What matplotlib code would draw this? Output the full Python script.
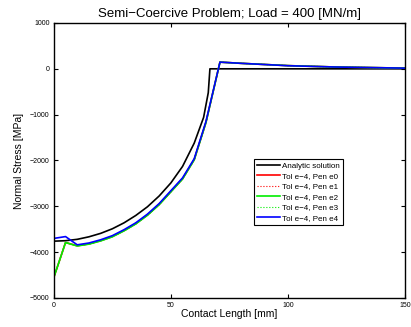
import numpy as np
import matplotlib.pyplot as plt

plt.rcParams['font.family'] = ['Liberation Sans', 'DejaVu Sans']

# analytic solution
x_ana = [0, 5, 10, 15, 20, 25, 30, 35, 40, 45, 50, 55, 60, 64, 65, 66, 66.7, 100, 150]
p_ana = [-3760, -3750, -3720, -3665, -3590, -3490, -3360, -3200, -3010, -2775, -2490,
         -2130, -1620, -1060, -790, -520, 0, 0, 0]

# numerical results (nodes)
x_num = [0, 5, 10, 15, 20, 25, 30, 35, 40, 45, 50, 55, 60, 65, 71, 80, 100, 120, 150]
p_e0 = [-4550, -3790, -3860, -3820, -3750, -3660, -3530, -3380, -3190, -2960, -2680,
        -2400, -1980, -1170, 146, 120, 70, 40, 15]
p_e1 = [-4550, -3790, -3860, -3820, -3750, -3660, -3530, -3380, -3190, -2960, -2680,
        -2400, -1980, -1170, 146, 120, 70, 40, 15]
p_e2 = [-4550, -3790, -3865, -3825, -3755, -3665, -3535, -3385, -3195, -2965, -2685,
        -2405, -1985, -1175, 146, 120, 70, 40, 15]
p_e3 = [-4550, -3790, -3865, -3825, -3755, -3665, -3535, -3385, -3195, -2965, -2685,
        -2405, -1985, -1175, 146, 120, 70, 40, 15]
p_e4 = [-3700, -3660, -3840, -3800, -3730, -3640, -3510, -3360, -3170, -2940, -2660,
        -2380, -1960, -1150, 146, 120, 68, 40, 15]

fig = plt.figure(figsize=(4.11, 3.27), dpi=100)
ax = fig.add_axes([0.131, 0.0887, 0.854, 0.841])

ax.plot(x_ana, p_ana, color='black', lw=1.2, label='Analytic solution')
ax.plot(x_num, p_e0, color='red', lw=1.2, label='Tol e\u22124, Pen e0')
ax.plot(x_num, p_e1, color='red', lw=0.8, ls=':', label='Tol e\u22124, Pen e1')
ax.plot(x_num, p_e2, color='#00ee00', lw=1.2, label='Tol e\u22124, Pen e2')
ax.plot(x_num, p_e3, color='#00ee00', lw=0.8, ls=':', label='Tol e\u22124, Pen e3')
ax.plot(x_num, p_e4, color='blue', lw=1.2, label='Tol e\u22124, Pen e4')

ax.set_xlim(0, 150)
ax.set_ylim(-5000, 1000)
ax.set_xticks([0, 50, 100, 150])
ax.set_yticks(np.arange(-5000, 1001, 1000))
ax.tick_params(direction='in', top=True, right=True, labelsize=5, length=3, pad=3)
for s in ax.spines.values():
    s.set_linewidth(1.0)

ax.set_title('Semi\u2212Coercive Problem; Load = 400 [MN/m]', fontsize=9.5, pad=4)
ax.set_xlabel('Contact Length [mm]', fontsize=7.5, labelpad=0)
ax.set_ylabel('Normal Stress [MPa]', fontsize=7.5, labelpad=4)

leg = ax.legend(loc='upper right', bbox_to_anchor=(0.823, 0.505), borderaxespad=0,
                fontsize=5.8, fancybox=False, framealpha=1, edgecolor='black',
                handlelength=2.8, handletextpad=0.3, labelspacing=0.35,
                borderpad=0.35)
leg.get_frame().set_linewidth(0.8)

fig.savefig('out.png', dpi=100)
